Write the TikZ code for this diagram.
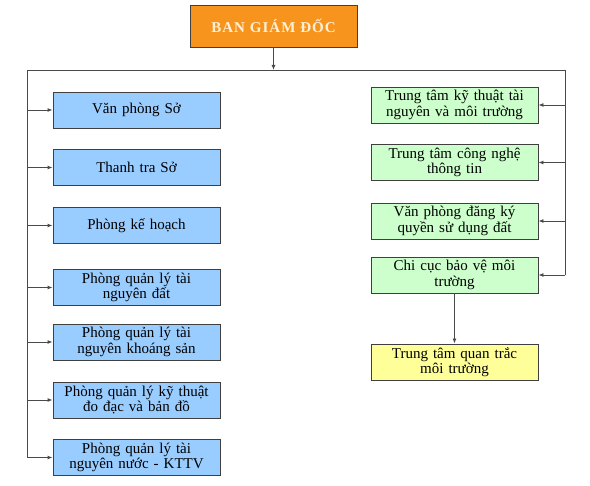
\documentclass[tikz,border=0pt]{standalone}
\usepackage{fontspec}
\setmainfont{Liberation Serif}
\newfontfamily\bgdfont[LetterSpace=7]{Liberation Serif}
\usetikzlibrary{positioning}
\usetikzlibrary{arrows.meta}
\usepackage{xcolor}

\definecolor{bgdorange}{HTML}{F7941D}
\definecolor{bgdtext}{HTML}{FFF1D6}
\definecolor{phongblue}{HTML}{99CCFF}
\definecolor{ttgreen}{HTML}{CCFFCC}
\definecolor{qtyellow}{HTML}{FFFF99}
\definecolor{boxline}{HTML}{3F3F3F}
\definecolor{linkgray}{HTML}{4A4A4A}

\tikzset{
  unitbox/.style={draw=boxline, line width=0.9pt, minimum width=167pt, minimum height=36pt,
    text width=164pt, align=center, inner sep=1pt, font=\fontsize{15}{15.5}\selectfont},
  phong/.style={unitbox, fill=phongblue},
  trungtam/.style={unitbox, fill=ttgreen},
  link/.style={draw=linkgray, line width=0.9pt},
  linkarrow/.style={link, -{Latex[length=5pt,width=4pt]}}
}

\begin{document}
\begin{tikzpicture}[x=1pt,y=1pt]
\useasboundingbox (0,0) rectangle (590,-486);

% ban giam doc
\node[draw=boxline, line width=0.9pt, fill=bgdorange, minimum width=167pt, minimum height=42pt,
  text=bgdtext, font=\bgdfont\fontsize{15}{16}\selectfont\bfseries] (bgd) at (273.5,-26) {BAN GIÁM ĐỐC};

% phong ban (ben trai)
\node[phong] (p1) at (136.5,-110) {Văn phòng Sở};
\node[phong] (p2) at (136.5,-167.5) {Thanh tra Sở};
\node[phong] (p3) at (136.5,-225.5) {Phòng kế hoạch};
\node[phong] (p4) at (136.5,-287.5) {Phòng quản lý tài\\nguyên đất};
\node[phong] (p5) at (136.5,-342) {Phòng quản lý tài\\nguyên khoáng sản};
\node[phong] (p6) at (136.5,-400) {Phòng quản lý kỹ thuật\\đo đạc và bản đồ};
\node[phong] (p7) at (136.5,-457.5) {Phòng quản lý tài\\nguyên nước - KTTV};

% don vi (ben phai)
\node[trungtam] (t1) at (454.5,-105) {Trung tâm kỹ thuật tài\\nguyên và môi trường};
\node[trungtam] (t2) at (454.5,-162.5) {Trung tâm công nghệ\\thông tin};
\node[trungtam] (t3) at (454.5,-221) {Văn phòng đăng ký\\quyền sử dụng đất};
\node[trungtam] (t4) at (454.5,-275) {Chi cục bảo vệ môi\\trường};
\node[unitbox, fill=qtyellow] (t5) at (454.5,-362) {Trung tâm quan trắc\\môi trường};

% duong noi
\coordinate (busL) at (27,-70);
\coordinate (busR) at (565,-70);

\draw[link] (busL) -- (busR);
\draw[linkarrow] (bgd.south) -- (bgd.south |- busL);

\draw[link] (busL) -- (busL |- p7.west);
\foreach \p in {p1,p2,p3,p4,p5,p6,p7}
  \draw[linkarrow] (busL |- \p.west) -- (\p.west);

\draw[link] (busR) -- (busR |- t4.east);
\foreach \t in {t1,t2,t3,t4}
  \draw[linkarrow] (busR |- \t.east) -- (\t.east);

\draw[linkarrow] (t4.south) -- (t5.north);

\end{tikzpicture}
\end{document}
